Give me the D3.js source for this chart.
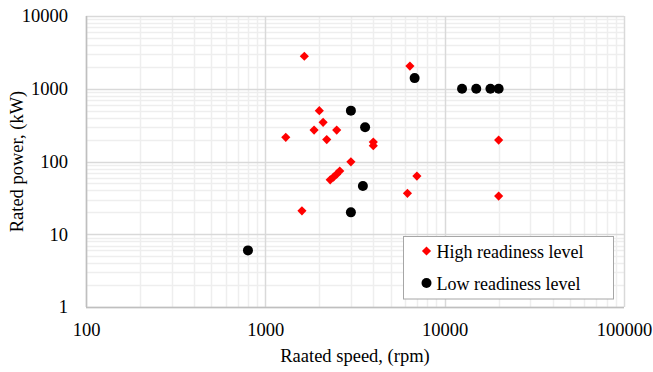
<!DOCTYPE html>
<html>
<head>
<meta charset="utf-8">
<script src="https://cdn.jsdelivr.net/npm/d3@7"></script>
<style>
  body { margin: 0; background: #fff; }
</style>
</head>
<body>
<div id="chart"></div>
<script>
// Data: rated speed (rpm) vs rated power (kW)
const highSpeed = [1650, 2000, 2100, 1870, 2500, 2200, 1300, 4000, 4000, 3000, 2300, 2400, 2500, 2600, 1600, 6200, 7000, 6400, 20000, 20000];
const highPower = [2800, 500, 345, 270, 270, 200, 215, 185, 165, 99, 56, 61, 67, 74, 21, 36.5, 63, 2050, 33.5, 197];
const lowSpeed = [800, 3000, 3600, 3500, 3000, 6800, 12500, 15000, 18000, 20000];
const lowPower = [6, 500, 295, 46, 20, 1400, 1000, 1000, 1000, 1000];
const xTicks = [100, 1000, 10000, 100000];
const yTicks = [1, 10, 100, 1000, 10000];
const seriesNames = ["High readiness level", "Low readiness level"];

// pick a serif font that is really installed
const ctx = document.createElement("canvas").getContext("2d");
const probe = "Raated speed, (rpm) 10000";
function widthWith(f) { ctx.font = `18px ${f}`; return ctx.measureText(probe).width; }
const candidates = ['"Liberation Serif"', '"Times New Roman"', 'Tinos', '"DejaVu Serif"', '"Noto Serif"'];
let serif = "serif";
for (const c of candidates) {
  if (widthWith(`${c}, monospace`) !== widthWith("monospace")) { serif = c; break; }
}

const W = 653, H = 372;
const margin = { top: 16, right: 29, bottom: 65, left: 86 };
const width = W - margin.left - margin.right;
const height = H - margin.top - margin.bottom;

const svg = d3.select("#chart").append("svg")
  .attr("width", W)
  .attr("height", H)
  .style("font-family", serif);

const g = svg.append("g")
  .attr("transform", `translate(${margin.left}, ${margin.top})`);

const x = d3.scaleLog().domain([100, 100000]).range([0, width]);
const y = d3.scaleLog().domain([1, 10000]).range([height, 0]);

// minor gridlines (2..9 of every decade)
const minorX = [];
for (let d = 100; d < 100000; d *= 10) for (let k = 2; k <= 9; k++) minorX.push(d * k);
const minorY = [];
for (let d = 1; d < 10000; d *= 10) for (let k = 2; k <= 9; k++) minorY.push(d * k);

g.selectAll(".minx").data(minorX).enter().append("line")
  .attr("x1", d => Math.round(x(d)) + 0.5).attr("x2", d => Math.round(x(d)) + 0.5)
  .attr("y1", 0).attr("y2", height)
  .attr("stroke", "#eeeeee").attr("stroke-width", 1.5);
g.selectAll(".miny").data(minorY).enter().append("line")
  .attr("y1", d => Math.round(y(d)) + 0.5).attr("y2", d => Math.round(y(d)) + 0.5)
  .attr("x1", 0).attr("x2", width)
  .attr("stroke", "#eeeeee").attr("stroke-width", 1.5);

// major gridlines
g.selectAll(".majx").data(xTicks).enter().append("line")
  .attr("x1", d => Math.round(x(d)) + 0.5).attr("x2", d => Math.round(x(d)) + 0.5)
  .attr("y1", 0).attr("y2", height)
  .attr("stroke", "#d9d9d9").attr("stroke-width", 1.5);
g.selectAll(".majy").data(yTicks).enter().append("line")
  .attr("y1", d => Math.round(y(d)) + 0.5).attr("y2", d => Math.round(y(d)) + 0.5)
  .attr("x1", 0).attr("x2", width)
  .attr("stroke", "#d9d9d9").attr("stroke-width", 1.5);

// axis lines
g.append("line").attr("x1", 0.5).attr("x2", 0.5).attr("y1", 0).attr("y2", height)
  .attr("stroke", "#bfbfbf").attr("stroke-width", 1.5);
g.append("line").attr("x1", 0).attr("x2", width).attr("y1", height + 0.5).attr("y2", height + 0.5)
  .attr("stroke", "#bfbfbf").attr("stroke-width", 1.5);

// tick labels
const xAxis = g.append("g").attr("transform", `translate(0, ${height})`)
  .call(d3.axisBottom(x).tickValues(xTicks).tickFormat(d3.format("d")).tickSize(0).tickPadding(16));
const yAxis = g.append("g")
  .call(d3.axisLeft(y).tickValues(yTicks).tickFormat(d3.format("d")).tickSize(0).tickPadding(18));
[xAxis, yAxis].forEach(a => {
  a.attr("font-family", null).attr("font-size", null);
  a.select(".domain").remove();
  a.selectAll("text").style("font-size", "18.5px").attr("fill", "#000");
});

// axis titles
svg.append("text")
  .attr("x", margin.left + width / 2)
  .attr("y", 362)
  .attr("text-anchor", "middle")
  .style("font-size", "18.5px")
  .text("Raated speed, (rpm)");

svg.append("text")
  .attr("transform", "rotate(-90)")
  .attr("x", -(margin.top + height / 2))
  .attr("y", 23)
  .attr("text-anchor", "middle")
  .style("font-size", "18.5px")
  .text("Rated power, (kW)");

// points
const highData = highSpeed.map((s, i) => ({ s, p: highPower[i] }));
const lowData = lowSpeed.map((s, i) => ({ s, p: lowPower[i] }));
const diamond = d3.symbol().type(d3.symbolSquare).size(42);

g.selectAll(".high").data(highData).enter().append("path")
  .attr("d", diamond)
  .attr("transform", d => `translate(${x(d.s)}, ${y(d.p)}) rotate(45)`)
  .attr("fill", "#ff0000");

g.selectAll(".low").data(lowData).enter().append("circle")
  .attr("cx", d => x(d.s))
  .attr("cy", d => y(d.p))
  .attr("r", 5)
  .attr("fill", "#000");

// legend
const legend = svg.append("g").attr("transform", "translate(403.5, 236.5)");
legend.append("rect")
  .attr("width", 210).attr("height", 62.5)
  .attr("fill", "#fff").attr("stroke", "#a6a6a6").attr("stroke-width", 1);
legend.append("path")
  .attr("d", diamond)
  .attr("transform", "translate(23, 14.5) rotate(45)")
  .attr("fill", "#ff0000");
legend.append("circle").attr("cx", 23).attr("cy", 46.5).attr("r", 5).attr("fill", "#000");
legend.selectAll(".lt").data(seriesNames).enter().append("text")
  .attr("x", 33)
  .attr("y", (d, i) => 21 + i * 32)
  .style("font-size", "18px")
  .text(d => d);
</script>
</body>
</html>
